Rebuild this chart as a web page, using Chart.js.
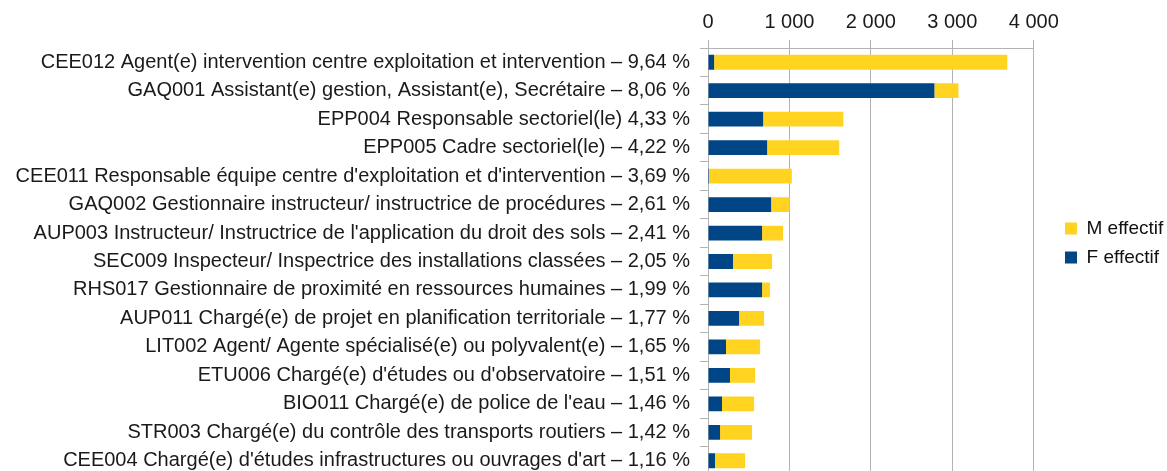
<!DOCTYPE html>
<html>
<head>
<meta charset="utf-8">
<script src="https://cdn.jsdelivr.net/npm/chart.js@4/dist/chart.umd.min.js"></script>
<style>
  html, body { margin: 0; padding: 0; background: #fff; overflow: hidden; }
  #wrap { width: 1167px; height: 497px; }
</style>
</head>
<body>
<div id="wrap"><canvas id="myBarChart" width="1167" height="497"></canvas></div>
<script>
// categories (metiers) and the two series
var metiers = [
  "CEE012 Agent(e) intervention centre exploitation et intervention – 9,64 %",
  "GAQ001 Assistant(e) gestion, Assistant(e), Secrétaire – 8,06 %",
  "EPP004 Responsable sectoriel(le) 4,33 %",
  "EPP005 Cadre sectoriel(le) – 4,22 %",
  "CEE011 Responsable équipe centre d'exploitation et d'intervention – 3,69 %",
  "GAQ002 Gestionnaire instructeur/ instructrice de procédures – 2,61 %",
  "AUP003 Instructeur/ Instructrice de l'application du droit des sols – 2,41 %",
  "SEC009 Inspecteur/ Inspectrice des installations classées – 2,05 %",
  "RHS017 Gestionnaire de proximité en ressources humaines – 1,99 %",
  "AUP011 Chargé(e) de projet en planification territoriale – 1,77 %",
  "LIT002 Agent/ Agente spécialisé(e) ou polyvalent(e) – 1,65 %",
  "ETU006 Chargé(e) d'études ou d'observatoire – 1,51 %",
  "BIO011 Chargé(e) de police de l'eau – 1,46 %",
  "STR003 Chargé(e) du contrôle des transports routiers – 1,42 %",
  "CEE004 Chargé(e) d'études infrastructures ou ouvrages d'art – 1,16 %"
]
var fEffectif = [75, 2780, 677, 726, 12, 775, 664, 307, 664, 381, 221, 270, 172, 148, 86]
var mEffectif = [3600, 295, 985, 885, 1017, 225, 258, 480, 98, 308, 419, 308, 394, 393, 369]
var xTicks = [0, 1000, 2000, 3000, 4000]

/* helpers */
function milliers(v){
  return String(v).replace(/\B(?=(\d{3})+(?!\d))/g, ' ')
}

// place the legend like in the original layout (further right, a bit higher)
var legendShift = {
  id: 'legendShift',
  afterLayout: function(chart){
    var lg = chart.legend
    var dx = 1055 - lg.left
    lg.left += dx
    lg.right += dx
    lg.top -= 4
    lg.bottom -= 4
  }
}

Chart.defaults.font.family = "'Liberation Sans', Arial, sans-serif"
Chart.defaults.font.size = 20
Chart.defaults.color = '#1a1a1a'

const data = {
  labels: metiers,
  datasets: [{
    label: 'F effectif',
    backgroundColor: '#004586',
    data: fEffectif
  }, {
    label: 'M effectif',
    backgroundColor: '#ffd320',
    data: mEffectif
  }]
}

const config = {
  type: 'bar',
  data: data,
  plugins: [legendShift],
  options: {
    indexAxis: 'y',
    responsive: false,
    animation: false,
    layout: { padding: { top: 0, right: 15, bottom: 3, left: 0 } },
    datasets: { bar: { barPercentage: 1, categoryPercentage: 0.52 } },
    scales: {
      x: {
        position: 'top',
        stacked: true,
        min: 0,
        max: 4000,
        afterBuildTicks: function(s){ s.ticks = xTicks.map(function(v){ return { value: v } }) },
        ticks: { padding: 6, callback: function(v){ return milliers(v) } },
        grid: { color: '#b3b3b3', tickLength: 8, tickColor: '#b3b3b3' },
        border: { color: '#b3b3b3' },
        afterFit: function(s){ s.height = 48 }
      },
      y: {
        stacked: true,
        ticks: { padding: 10, autoSkip: false },
        grid: { drawOnChartArea: false, offset: true, tickLength: 8, color: '#b3b3b3' },
        border: { color: '#b3b3b3' },
        afterFit: function(s){ s.width = 708 }
      }
    },
    plugins: {
      tooltip: { enabled: false },
      legend: {
        position: 'right',
        reverse: true,
        labels: { boxWidth: 12, boxHeight: 12, padding: 10, color: '#111', font: { size: 19 } }
      }
    }
  }
}

const myChart = new Chart(document.getElementById('myBarChart'), config)
</script>
</body>
</html>
